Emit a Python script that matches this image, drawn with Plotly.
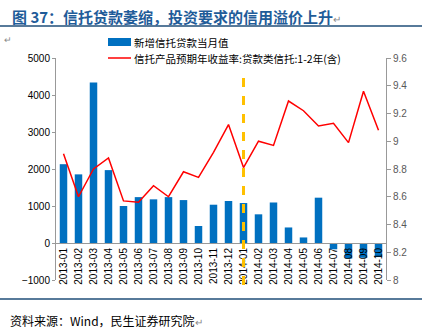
import plotly.graph_objects as go

months = ["2013-01","2013-02","2013-03","2013-04","2013-05","2013-06","2013-07","2013-08",
          "2013-09","2013-10","2013-11","2013-12","2014-01","2014-02","2014-03","2014-04",
          "2014-05","2014-06","2014-07","2014-08","2014-09","2014-10"]
new_loans = [2130, 1855, 4340, 1970, 1000, 1240, 1180, 1240, 1160, 460, 1035, 1135,
             1080, 775, 1095, 420, 150, 1225, -170, -420, -400, -380]
yield_rate = [8.91, 8.60, 8.80, 8.88, 8.57, 8.56, 8.68, 8.60, 8.78, 8.74, 8.92, 9.12,
              8.81, 9.00, 8.97, 9.29, 9.22, 9.11, 9.13, 8.99, 9.36, 9.08]
y1_ticks = [-1000, 0, 1000, 2000, 3000, 4000, 5000]
y2_ticks = [8, 8.2, 8.4, 8.6, 8.8, 9, 9.2, 9.4, 9.6]
marker_month = "2014-01"
bar_name = "新增信托贷款当月值"
line_name = "信托产品预期年收益率:贷款类信托:1-2年(含)"

W, H = 426, 335
L, R, T, B = 56, 40, 58, 55
pw = W - L - R
ph = H - T - B
x_pos = 1000 / 6000  # paper y of zero line

def px(x):
    return (x - L) / pw

def py(y):
    return 1 - (y - T) / ph

font_main = "Liberation Sans, Arial, sans-serif"
cjk = "Noto Sans CJK SC, sans-serif"
bar_color = "#0070C0"
line_color = "#FF0000"

fig = go.Figure()
fig.add_trace(go.Bar(x=months, y=new_loans, name=bar_name,
                     marker=dict(color=bar_color, line=dict(width=0)), yaxis="y"))
fig.add_trace(go.Scatter(x=months, y=yield_rate, name=line_name,
                         mode="lines", line=dict(color=line_color, width=1.5), yaxis="y2"))

# vertical dashed marker
fig.add_shape(type="line", xref="x", yref="paper", x0=marker_month, x1=marker_month,
              y0=py(285), y1=py(73),
              line=dict(color="#FFC000", width=3, dash="dash"))

# legend (drawn)
fig.add_shape(type="rect", xref="paper", yref="paper", x0=px(108), x1=px(131),
              y0=py(46), y1=py(38), line=dict(width=0), fillcolor=bar_color)
fig.add_shape(type="line", xref="paper", yref="paper", x0=px(108), x1=px(131),
              y0=py(58), y1=py(58), line=dict(color=line_color, width=1.5))
fig.add_annotation(text=bar_name, xref="paper", yref="paper", x=px(132), y=py(42),
                   xanchor="left", yanchor="middle", showarrow=False,
                   font=dict(family=cjk, size=10.5, color="#000000"))
fig.add_annotation(text=line_name, xref="paper", yref="paper", x=px(132), y=py(58),
                   xanchor="left", yanchor="middle", showarrow=False,
                   font=dict(family=cjk, size=10.5, color="#000000"))

fig.update_layout(
    width=W, height=H,
    margin=dict(l=L, r=R, t=T, b=B),
    paper_bgcolor="white", plot_bgcolor="white",
    bargap=0.5,
    showlegend=False,
    xaxis=dict(type="category", anchor="free", position=x_pos, tickangle=-90,
               showline=True, linecolor="#999999", linewidth=1, ticks="", showgrid=False,
               tickfont=dict(family=font_main, size=10, color="#000000"), zeroline=False),
    yaxis=dict(range=[-1000, 5000], tickvals=y1_ticks, showgrid=False, showline=True,
               linecolor="#999999", linewidth=1, ticks="outside", ticklen=3, tickcolor="#999999",
               zeroline=True, zerolinecolor="#999999", zerolinewidth=1,
               tickfont=dict(family=font_main, size=10, color="#000000")),
    yaxis2=dict(range=[8, 9.6], tickvals=y2_ticks, overlaying="y", side="right",
                showgrid=False, showline=True, linecolor="#999999", linewidth=1,
                ticks="outside", ticklen=4, tickcolor="#999999", zeroline=False,
                tickfont=dict(family=font_main, size=10, color="#595959")),
)

fig.add_annotation(text="<b>图 37：信托贷款萎缩，投资要求的信用溢价上升</b><span style='color:#888;font-size:10px'>↵</span>",
                   xref="paper", yref="paper", x=px(10), y=py(17),
                   xanchor="left", yanchor="middle", showarrow=False,
                   font=dict(family=cjk, size=15, color="#1F5C99"))
fig.add_annotation(text="资料来源：Wind，民生证券研究院<span style='color:#888;font-size:10px'>↵</span>",
                   xref="paper", yref="paper", x=px(8), y=py(320),
                   xanchor="left", yanchor="middle", showarrow=False,
                   font=dict(family=cjk, size=12, color="#000000"))
fig.add_annotation(text="↵", xref="paper", yref="paper", x=px(2),
                   y=py(40), xanchor="left", yanchor="middle", showarrow=False,
                   font=dict(family=cjk, size=9, color="#888888"))

# separator lines
fig.add_shape(type="line", xref="paper", yref="paper", x0=px(0), x1=px(W - 4),
              y0=py(26), y1=py(26), line=dict(color="#1F4E79", width=1.5))
fig.add_shape(type="line", xref="paper", yref="paper", x0=px(0), x1=px(W - 4),
              y0=py(299), y1=py(299), line=dict(color="#1F4E79", width=1.5))

fig.write_html("out.html")
